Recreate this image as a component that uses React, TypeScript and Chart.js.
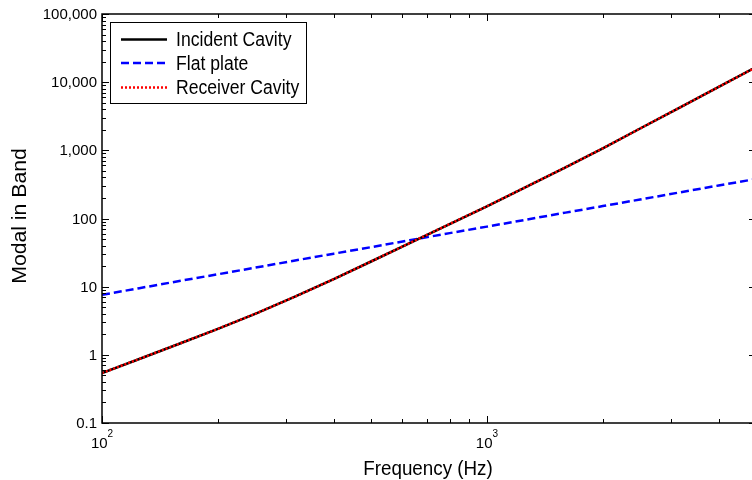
import React, { useEffect, useRef } from 'react';
import { Chart, registerables } from 'chart.js';

Chart.register(...registerables);

// ---- data ----
const frequencies = [100, 125, 160, 200, 250, 315, 400, 500, 630, 800, 1000, 1250, 1600, 2000, 2500, 3150, 4000, 5000];
const incidentCavity = [0.54, 0.87, 1.48, 2.4, 4.0, 7.0, 12.9, 23.4, 43.6, 83, 151, 282, 562, 1070, 2090, 4170, 8510, 16600];
const flatPlate = [7.6, 9.5, 12.2, 15.2, 19.0, 24.0, 30.5, 38, 48, 61, 76, 95, 122, 152, 190, 240, 305, 380];
const receiverCavity = [0.54, 0.87, 1.48, 2.4, 4.0, 7.0, 12.9, 23.4, 43.6, 83, 151, 282, 562, 1070, 2090, 4170, 8510, 16600];

const seriesNames = ['Incident Cavity', 'Flat plate', 'Receiver Cavity'];

const xMin = 100;
const xMax = 5000;
const yMin = 0.1;
const yMax = 100000;

const yTickValues = [0.1, 1, 10, 100, 1000, 10000, 100000];
const yTickLabels = ['0.1', '1', '10', '100', '1,000', '10,000', '100,000'];
const xTickValues = [100, 1000];
const xTickBases = ['10', '10'];
const xTickExponents = ['2', '3'];

const xTitle = 'Frequency (Hz)';
const yTitle = 'Modal in Band';

const FONT = '"Liberation Sans", Arial, Helvetica, sans-serif';

function drawText(
  ctx: CanvasRenderingContext2D,
  text: string,
  x: number,
  y: number,
  size: number,
  align: CanvasTextAlign,
  baseline: CanvasTextBaseline,
  sx = 1,
  sy = 1,
  rot = 0
) {
  ctx.save();
  ctx.translate(x, y);
  if (rot) ctx.rotate(rot);
  ctx.scale(sx, sy);
  ctx.font = `${size}px ${FONT}`;
  ctx.textAlign = align;
  ctx.textBaseline = baseline;
  ctx.fillStyle = '#000';
  ctx.fillText(text, 0, 0);
  ctx.restore();
}

function logTicks(min: number, max: number) {
  const res: { v: number; major: boolean }[] = [];
  const k0 = Math.floor(Math.log10(min));
  const k1 = Math.ceil(Math.log10(max));
  for (let k = k0; k <= k1; k++) {
    for (let d = 1; d <= 9; d++) {
      const v = d * Math.pow(10, k);
      if (v >= min * 0.999 && v <= max * 1.001) res.push({ v, major: d === 1 });
    }
  }
  return res;
}

const framePlugin = {
  id: 'framePlugin',
  afterDatasetsDraw(chart: any) {
    const ctx: CanvasRenderingContext2D = chart.ctx;
    const a = chart.chartArea;
    const xs = chart.scales.x;
    const ys = chart.scales.y;
    ctx.save();

    // frame
    ctx.strokeStyle = '#000';
    ctx.lineWidth = 1.5;
    ctx.strokeRect(a.left, a.top, a.right - a.left, a.bottom - a.top);

    // ticks (inward, mirrored)
    ctx.lineWidth = 1;
    ctx.beginPath();
    for (const t of logTicks(xMin, xMax)) {
      const px = Math.round(xs.getPixelForValue(t.v)) + 0.5;
      const len = t.major ? 7 : 4;
      ctx.moveTo(px, a.bottom);
      ctx.lineTo(px, a.bottom - len);
      ctx.moveTo(px, a.top);
      ctx.lineTo(px, a.top + len);
    }
    for (const t of logTicks(yMin, yMax)) {
      const py = Math.round(ys.getPixelForValue(t.v)) + 0.5;
      const len = t.major ? 7 : 4;
      ctx.moveTo(a.left, py);
      ctx.lineTo(a.left + len, py);
      ctx.moveTo(a.right, py);
      ctx.lineTo(a.right - len, py);
    }
    ctx.stroke();

    // y tick labels
    yTickValues.forEach((v, i) => {
      const py = ys.getPixelForValue(v);
      drawText(ctx, yTickLabels[i], a.left - 5, py + 1, 15, 'right', 'middle');
    });

    // x tick labels with superscripts
    xTickValues.forEach((v, i) => {
      const px = xs.getPixelForValue(v);
      ctx.font = `15px ${FONT}`;
      const wb = ctx.measureText(xTickBases[i]).width;
      ctx.font = `10px ${FONT}`;
      const we = ctx.measureText(xTickExponents[i]).width;
      const start = px - (wb + we) / 2;
      drawText(ctx, xTickBases[i], start, a.bottom + 25, 15, 'left', 'alphabetic');
      drawText(ctx, xTickExponents[i], start + wb, a.bottom + 14, 10, 'left', 'alphabetic');
    });

    // axis titles
    drawText(ctx, xTitle, 428, 475, 20, 'center', 'alphabetic', 0.94, 1);
    drawText(ctx, yTitle, 20, 216, 20, 'center', 'middle', 1.06, 1, -Math.PI / 2);

    // legend
    const lx = 110.5, ly = 22.5, lw = 196, lh = 81;
    ctx.fillStyle = '#fff';
    ctx.fillRect(lx, ly, lw, lh);
    ctx.strokeStyle = '#000';
    ctx.lineWidth = 1;
    ctx.strokeRect(lx, ly, lw, lh);
    const rows = [39.5, 63, 87.5];
    chart.data.datasets.forEach((ds: any, i: number) => {
      const ry = rows[i];
      ctx.save();
      ctx.strokeStyle = ds.borderColor;
      ctx.lineWidth = ds.borderWidth;
      ctx.setLineDash(ds.borderDash || []);
      ctx.beginPath();
      ctx.moveTo(121, ry);
      ctx.lineTo(167, ry);
      ctx.stroke();
      ctx.restore();
      drawText(ctx, ds.label, 176, ry + 1, 20, 'left', 'middle', 0.88, 1);
    });

    ctx.restore();
  },
};

export default function App() {
  const ref = useRef<HTMLCanvasElement | null>(null);

  useEffect(() => {
    if (!ref.current) return;
    const toPts = (ys: number[]) => frequencies.map((f, i) => ({ x: f, y: ys[i] }));
    const chart = new Chart(ref.current, {
      type: 'line',
      data: {
        datasets: [
          {
            label: seriesNames[0],
            data: toPts(incidentCavity),
            borderColor: '#000000',
            borderWidth: 2.5,
            pointRadius: 0,
            tension: 0,
            order: 1,
          },
          {
            label: seriesNames[1],
            data: toPts(flatPlate),
            borderColor: '#0000ff',
            borderWidth: 2.5,
            borderDash: [8, 4],
            pointRadius: 0,
            tension: 0,
            order: 2,
          },
          {
            label: seriesNames[2],
            data: toPts(receiverCavity),
            borderColor: '#ff0000',
            borderWidth: 2.5,
            borderDash: [2, 2],
            pointRadius: 0,
            tension: 0,
            order: 0,
          },
        ],
      },
      options: {
        responsive: false,
        maintainAspectRatio: false,
        animation: false,
        devicePixelRatio: 1,
        layout: { padding: { left: 102, top: 14, right: 14, bottom: 57 } },
        scales: {
          x: { type: 'logarithmic', min: xMin, max: xMax, display: false },
          y: { type: 'logarithmic', min: yMin, max: yMax, display: false },
        },
        plugins: {
          legend: { display: false },
          tooltip: { enabled: false },
        },
      },
      plugins: [framePlugin],
    });
    return () => chart.destroy();
  }, []);

  return (
    <div
      style={{
        position: 'fixed',
        left: 0,
        top: 0,
        width: 752,
        height: 480,
        overflow: 'hidden',
        background: '#fff',
      }}
    >
      <canvas ref={ref} width={770} height={480} style={{ display: 'block', width: 770, height: 480 }} />
    </div>
  );
}
